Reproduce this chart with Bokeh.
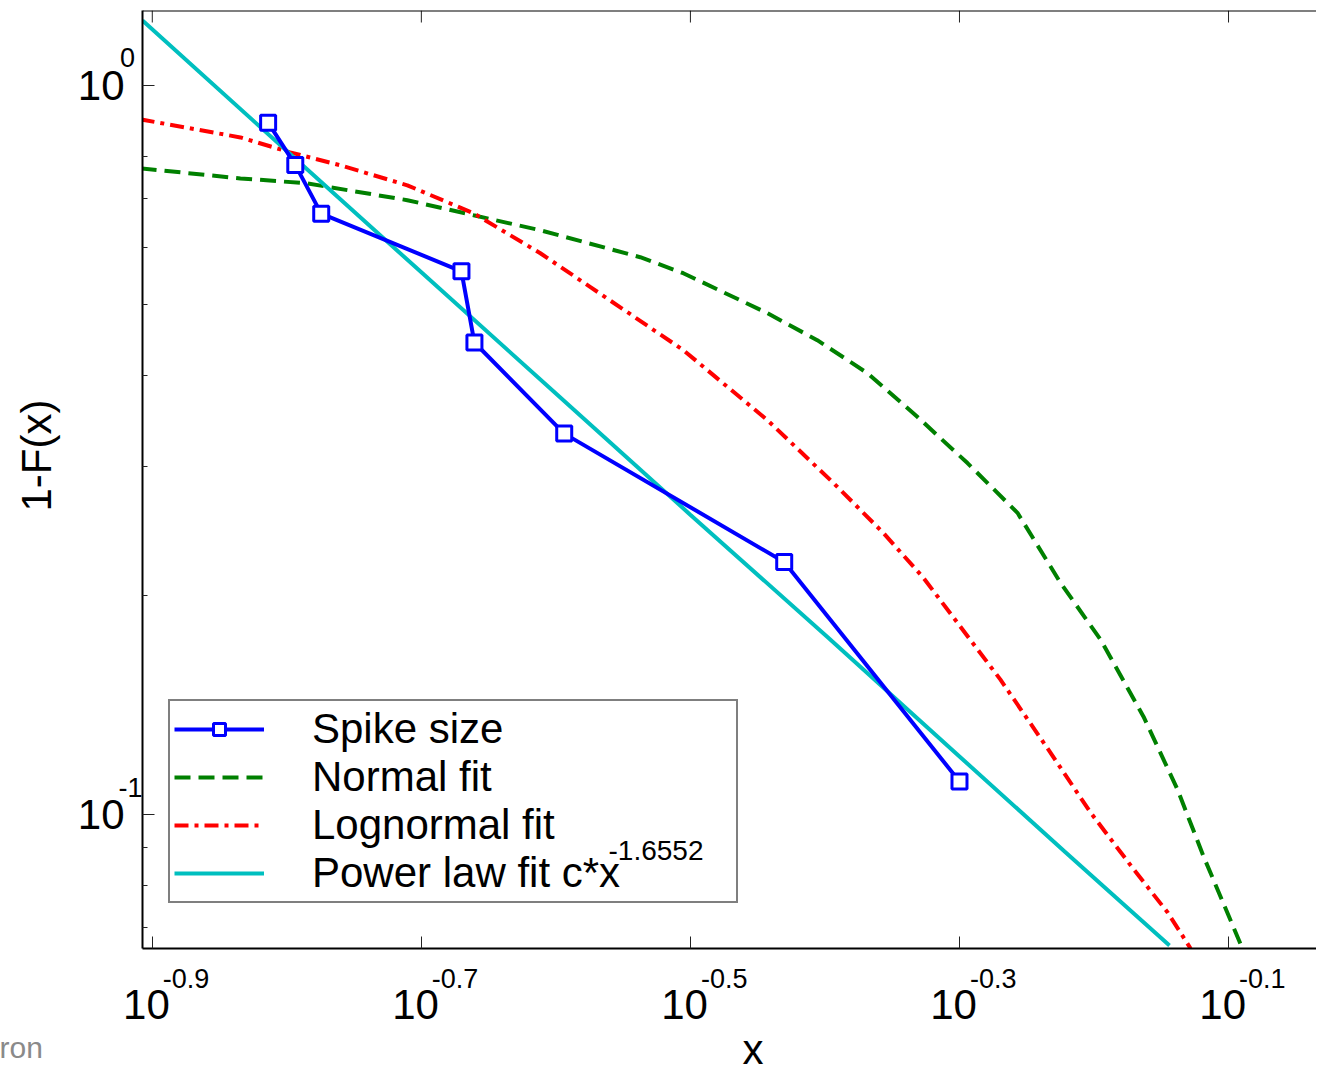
from bokeh.plotting import figure
from bokeh.models import FixedTicker, Label, Legend, LegendItem, Range1d, Span, LogAxis, Title
from bokeh.embed import file_html
from bokeh.resources import INLINE

# ---------------- data ----------------
spike_x = [0.1535, 0.1608, 0.1681, 0.2137, 0.2185, 0.2548, 0.3713, 0.5012]
spike_y = [0.889, 0.778, 0.667, 0.556, 0.444, 0.333, 0.222, 0.111]

normal_x = [0.1234, 0.1464, 0.1641, 0.1948, 0.2182, 0.2446, 0.2902, 0.3124,
            0.3607, 0.3929, 0.4281, 0.4665, 0.5081, 0.5535, 0.5959, 0.6381,
            0.6868, 0.7279, 0.7611, 0.8135]
normal_y = [0.7696, 0.7456, 0.734, 0.696, 0.6636, 0.633, 0.5813, 0.5527,
            0.4872, 0.4473, 0.4031, 0.3509, 0.3034, 0.2593, 0.2078, 0.1737,
            0.1362, 0.1082, 0.0876, 0.0655]

lognormal_x = [0.1234, 0.1464, 0.1594, 0.1737, 0.1948, 0.2182, 0.2446, 0.2665,
               0.3124, 0.3607, 0.4039, 0.4400, 0.4712, 0.5376, 0.5856, 0.6273,
               0.6753, 0.7157, 0.7444]
lognormal_y = [0.8984, 0.8486, 0.8095, 0.777, 0.7295, 0.6678, 0.5886, 0.5289,
               0.4335, 0.3476, 0.285, 0.2433, 0.2112, 0.1531, 0.1216, 0.1006,
               0.0841, 0.0734, 0.0655]

power_x = [0.1238, 0.16, 0.2, 0.25, 0.316, 0.4, 0.5, 0.6, 0.718]
power_y = [1.228, 0.80, 0.552, 0.381, 0.258, 0.175, 0.1206, 0.0890, 0.0661]

x_tick_exponents = [-0.9, -0.7, -0.5, -0.3, -0.1]
x_tick_labels = ["-0.9", "-0.7", "-0.5", "-0.3", "-0.1"]
y_major_ticks = [0.1, 1.0]
y_major_labels = ["-1", "0"]
y_minor_ticks = [0.07, 0.08, 0.09, 0.2, 0.3, 0.4, 0.5, 0.6, 0.7, 0.8]

legend_labels = ["Spike size", "Normal fit", "Lognormal fit", "Power law fit c*x"]
power_exponent_label = "-1.6552"
x_title = "x"
y_title = "1-F(x)"
corner_text = "ron"

FONT = "Liberation Sans"
NB = "\u00a0"
X0, X1 = 0.1238, 0.9234
Y0, Y1 = 0.0655, 1.267

p = figure(width=1316, height=1066, x_axis_type="log", y_axis_type="log",
           x_range=Range1d(X0, X1), y_range=Range1d(Y0, Y1),
           output_backend="svg", toolbar_location=None,
           min_border_left=142, min_border_right=0, min_border_top=10,
           min_border_bottom=118)
p.outline_line_color = None
p.grid.visible = False
p.background_fill_color = "white"
p.border_fill_color = "white"

x_ticks = [10 ** e for e in x_tick_exponents]
x_ticker = FixedTicker(ticks=x_ticks, minor_ticks=[])
y_ticker = FixedTicker(ticks=y_major_ticks, minor_ticks=y_minor_ticks)


def frame_axis(ax, ticker, minor_in=0):
    ax.ticker = ticker
    ax.axis_line_color = "black"
    ax.axis_line_width = 2
    ax.major_tick_in = 12
    ax.major_tick_out = 0
    ax.minor_tick_in = minor_in
    ax.minor_tick_out = 0
    ax.major_tick_line_color = "#222222"
    ax.minor_tick_line_color = "#222222"
    ax.major_label_text_font = FONT
    ax.major_label_text_color = "black"
    ax.axis_label = None


def label_axis(ax, ticker):
    ax.ticker = ticker
    ax.axis_line_color = None
    ax.major_tick_line_color = None
    ax.minor_tick_line_color = None
    ax.major_tick_in = 0
    ax.major_tick_out = 0
    ax.minor_tick_in = 0
    ax.minor_tick_out = 0
    ax.major_label_text_font = FONT
    ax.major_label_text_font_size = "42px"
    ax.major_label_text_color = "black"
    ax.axis_label = None


# bottom: frame axis carries the superscripts, second axis carries "10"
xa = p.xaxis[0]
frame_axis(xa, x_ticker)
xa.major_label_overrides = {t: NB * 9 + lab for t, lab in zip(x_ticks, x_tick_labels)}
xa.major_label_text_font_size = "27px"
xa.major_label_standoff = 15

xa2 = LogAxis()
label_axis(xa2, x_ticker)
xa2.major_label_overrides = {t: "10" + NB for t in x_ticks}
xa2.major_label_standoff = -16
p.add_layout(xa2, "below")

# left: frame axis carries the superscripts (raised), second axis carries "10"
ya = p.yaxis[0]
frame_axis(ya, y_ticker, minor_in=5)
ya.major_label_overrides = {1.0: y_major_labels[1] + NB + "\n", 0.1: y_major_labels[0] + "\n"}
ya.major_label_text_font_size = "27px"
ya.major_label_text_line_height = 1.8
ya.major_label_standoff = 0

ya2 = LogAxis()
label_axis(ya2, y_ticker)
ya2.major_label_overrides = {t: "10" for t in y_major_ticks}
ya2.major_label_standoff = -9
p.add_layout(ya2, "left")

# axis titles
p.add_layout(Title(text=y_title, align="left", offset=437, vertical_align="top",
                   standoff=25, text_font=FONT, text_font_size="42px",
                   text_font_style="normal", text_color="black"), "left")
p.add_layout(Title(text=corner_text, align="left", offset=-143, vertical_align="top",
                   standoff=0, text_font=FONT, text_font_size="30px",
                   text_font_style="normal", text_color="#8a8a8a"), "below")
p.add_layout(Title(text=x_title, align="left", offset=600, vertical_align="top",
                   standoff=-80, text_font=FONT, text_font_size="42px",
                   text_font_style="normal", text_color="black"), "below")

# top frame border and its ticks
p.add_layout(Span(location=Y1, dimension="width", line_color="black", line_width=2))
tick_len_factor = 10 ** (12 / 729)
p.segment(x0=x_ticks, y0=[Y1] * len(x_ticks), x1=x_ticks,
          y1=[Y1 / tick_len_factor] * len(x_ticks), line_color="#222222", line_width=1)

# ---------------- series ----------------
r_norm = p.line(normal_x, normal_y, line_color="#008000", line_width=4, line_dash="16 8")
r_logn = p.line(lognormal_x, lognormal_y, line_color="#ff0000", line_width=4, line_dash="14 6 4 6")
r_pow = p.line(power_x, power_y, line_color="#00bfbf", line_width=4)
r_spk_l = p.line(spike_x, spike_y, line_color="#0000ff", line_width=4)
r_spk_m = p.scatter(spike_x, spike_y, marker="square", size=15, line_color="#0000ff",
                    line_width=3, fill_color="white")

legend = Legend(items=[
    LegendItem(label=legend_labels[0], renderers=[r_spk_l, r_spk_m]),
    LegendItem(label=legend_labels[1], renderers=[r_norm]),
    LegendItem(label=legend_labels[2], renderers=[r_logn]),
    LegendItem(label=legend_labels[3], renderers=[r_pow]),
], location=(26, 45))
legend.label_text_font = FONT
legend.label_text_font_size = "42px"
legend.label_text_color = "black"
legend.glyph_width = 90
legend.glyph_height = 30
legend.label_standoff = 48
legend.label_width = 420
legend.padding = 4
legend.spacing = 0
legend.margin = 0
legend.border_line_color = "black"
legend.border_line_width = 2
legend.background_fill_color = "white"
legend.background_fill_alpha = 0.0
p.add_layout(legend)

p.add_layout(Label(x=466, y=98, x_units="screen", y_units="screen",
                   text=power_exponent_label, text_font=FONT, text_font_size="28px",
                   text_color="black", text_baseline="alphabetic"))

open("out.html", "w").write(file_html(p, INLINE))
